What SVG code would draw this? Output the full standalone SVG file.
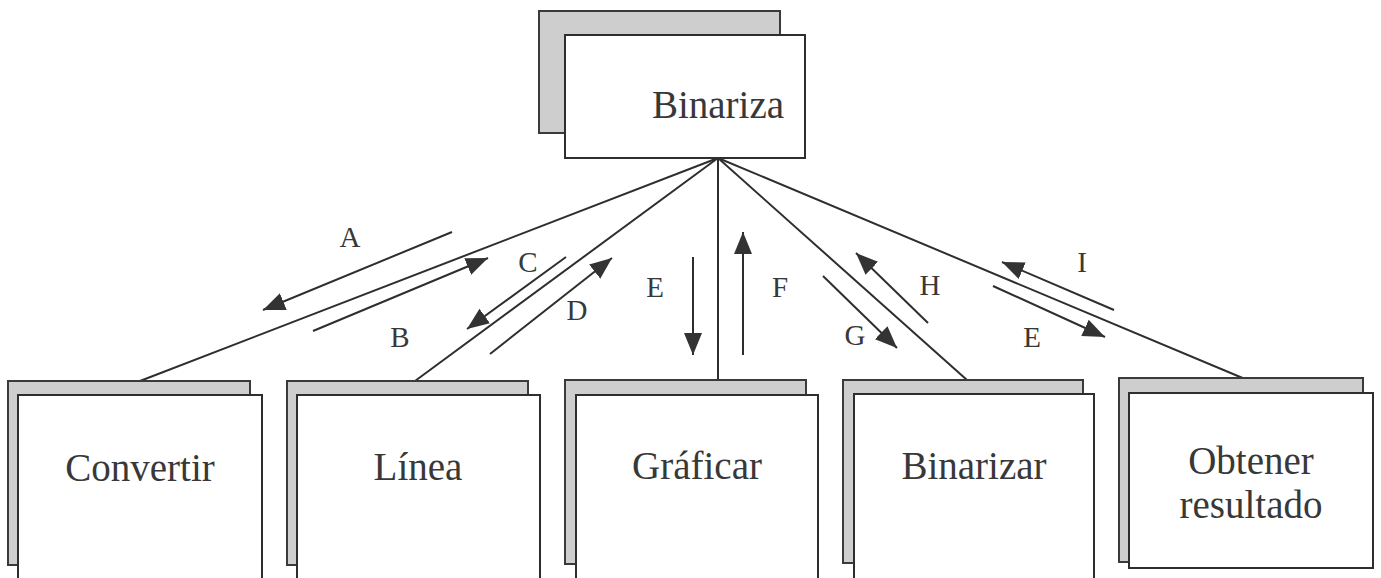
<svg xmlns="http://www.w3.org/2000/svg" width="1381" height="578" viewBox="0 0 1381 578">
  <style>
    .shadow { fill: #cecece; stroke: #3a3a3a; stroke-width: 2; }
    .box { fill: #ffffff; stroke: #2e2e2e; stroke-width: 2; }
    .label { font-family: "Liberation Serif", "Times New Roman", serif; font-size: 39px; fill: #383838; text-anchor: middle; }
    .tag { font-family: "Liberation Serif", "Times New Roman", serif; font-size: 29px; fill: #383838; text-anchor: middle; }
    .link { stroke: #2e2e2e; stroke-width: 2; fill: none; }
    .flow { stroke: #2e2e2e; stroke-width: 2; fill: none; marker-end: url(#head); }
  </style>
  <defs>
    <marker id="head" markerUnits="userSpaceOnUse" markerWidth="24" markerHeight="20" viewBox="0 0 24 20" refX="22" refY="10" orient="auto">
      <path d="M0,1 L22,10 L0,19 Z" fill="#333"/>
    </marker>
  </defs>
  <rect width="1381" height="578" fill="#ffffff"/>

  <!-- links from the main module to each sub-module -->
  <g id="connectors">
    <line class="link" x1="718" y1="158" x2="140" y2="381"/>
    <line class="link" x1="718" y1="158" x2="415" y2="381"/>
    <line class="link" x1="718" y1="158" x2="718" y2="380"/>
    <line class="link" x1="718" y1="158" x2="967" y2="380"/>
    <line class="link" x1="718" y1="158" x2="1245" y2="379"/>

    <!-- data-flow arrows -->
    <line class="flow" x1="452" y1="232" x2="263" y2="310"/>
    <line class="flow" x1="313" y1="331" x2="488" y2="258"/>
    <line class="flow" x1="566" y1="257" x2="467" y2="329"/>
    <line class="flow" x1="490" y1="354" x2="612" y2="258"/>
    <line class="flow" x1="693" y1="257" x2="693" y2="355"/>
    <line class="flow" x1="743" y1="355" x2="743" y2="232"/>
    <line class="flow" x1="823" y1="276" x2="897" y2="348"/>
    <line class="flow" x1="928" y1="323" x2="856" y2="253"/>
    <line class="flow" x1="1114" y1="310" x2="1002" y2="262"/>
    <line class="flow" x1="993" y1="286" x2="1105" y2="337"/>

    <text class="tag" x="350" y="247">A</text>
    <text class="tag" x="400" y="347">B</text>
    <text class="tag" x="528" y="272">C</text>
    <text class="tag" x="577" y="320">D</text>
    <text class="tag" x="655" y="297">E</text>
    <text class="tag" x="780" y="297">F</text>
    <text class="tag" x="855" y="345">G</text>
    <text class="tag" x="930" y="295">H</text>
    <text class="tag" x="1082" y="272">I</text>
    <text class="tag" x="1032" y="347">E</text>
  </g>

  <g id="binariza-main">
    <rect class="shadow" x="539" y="11" width="241" height="122"/>
    <rect class="box" x="565" y="35" width="240" height="123"/>
    <text class="label" x="718" y="118">Binariza</text>
  </g>

  <g id="convertir">
    <rect class="shadow" x="8" y="381" width="242" height="184"/>
    <rect class="box" x="18" y="395" width="244" height="190"/>
    <text class="label" x="140" y="481">Convertir</text>
  </g>

  <g id="linea">
    <rect class="shadow" x="287" y="381" width="241" height="184"/>
    <rect class="box" x="297" y="395" width="243" height="190"/>
    <text class="label" x="418" y="480">Línea</text>
  </g>

  <g id="graficar">
    <rect class="shadow" x="565" y="380" width="241" height="184"/>
    <rect class="box" x="576" y="395" width="242" height="190"/>
    <text class="label" x="697" y="479">Gráficar</text>
  </g>

  <g id="binarizar">
    <rect class="shadow" x="843" y="380" width="240" height="183"/>
    <rect class="box" x="854" y="394" width="240" height="190"/>
    <text class="label" x="974" y="479">Binarizar</text>
  </g>

  <g id="obtener-resultado">
    <rect class="shadow" x="1119" y="378" width="244" height="184"/>
    <rect class="box" x="1129" y="393" width="244" height="175"/>
    <text class="label" x="1251" y="474">Obtener</text>
    <text class="label" x="1251" y="518">resultado</text>
  </g>
</svg>
